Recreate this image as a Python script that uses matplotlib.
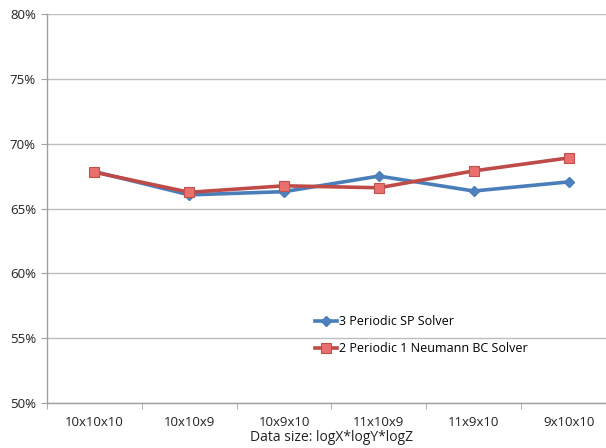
import matplotlib
matplotlib.use("Agg")
import matplotlib.pyplot as plt
from matplotlib.ticker import FuncFormatter

categories = ["10x10x10", "10x10x9", "10x9x10", "11x10x9", "11x9x10", "9x10x10"]
sp_solver = [67.85, 66.05, 66.3, 67.5, 66.35, 67.05]
neumann_solver = [67.8, 66.25, 66.75, 66.6, 67.9, 68.9]
series_labels = ["3 Periodic SP Solver", "2 Periodic 1 Neumann BC Solver"]

plt.rcParams['font.family'] = ['Open Sans', 'DejaVu Sans']

W, H = 606, 448
fig = plt.figure(figsize=(W/100, H/100), dpi=100)
left, right, top, bottom = 47, 616, 14, 403
ax = fig.add_axes([left/W, (H-bottom)/H, (right-left)/W, (bottom-top)/H])

x = list(range(len(categories)))
ax.plot(x, sp_solver, color='#4A7EBB', lw=2.6, marker='D', ms=5,
        mfc='#4F81BD', mec='#4A7EBB', label=series_labels[0], zorder=3)
ax.plot(x, neumann_solver, color='#BE4B48', lw=2.6, marker='s', ms=7,
        mfc='#E9706D', mec='#C0504D', mew=0.8, label=series_labels[1], zorder=4)

ax.set_xlim(-0.5, len(categories)-0.5)
ax.set_ylim(50, 80)
ax.set_yticks(range(50, 81, 5))
ax.yaxis.set_major_formatter(FuncFormatter(lambda v, p: f"{int(v)}%"))
ax.set_xticks(x)
ax.set_xticklabels(categories)
ax.set_xticks([i - 0.5 for i in range(len(categories)+1)], minor=True)
ax.tick_params(axis='x', which='major', length=0, pad=9, labelsize=9.5, colors='#222222')
ax.tick_params(axis='x', which='minor', length=4, color='#A0A0A0', direction='out')
ax.tick_params(axis='y', length=4, color='#A0A0A0', labelsize=9.5, colors='#222222', pad=4)

ax.grid(axis='y', color='#BDBDBD', lw=1)
ax.set_axisbelow(True)
for s in ['top', 'right']:
    ax.spines[s].set_visible(False)
for s in ['left', 'bottom']:
    ax.spines[s].set_color('#A0A0A0')
    ax.spines[s].set_linewidth(1)

ax.set_xlabel("Data size: logX*logY*logZ", fontsize=10, color='#222222', labelpad=1)

leg = ax.legend(loc='upper left', bbox_to_anchor=((310-left)/(right-left), 1-(310-top)/(bottom-top)),
                frameon=False, fontsize=9, handlelength=1.8, handletextpad=0.1,
                labelspacing=1.15, borderaxespad=0)

fig.savefig("out.png", dpi=100)
